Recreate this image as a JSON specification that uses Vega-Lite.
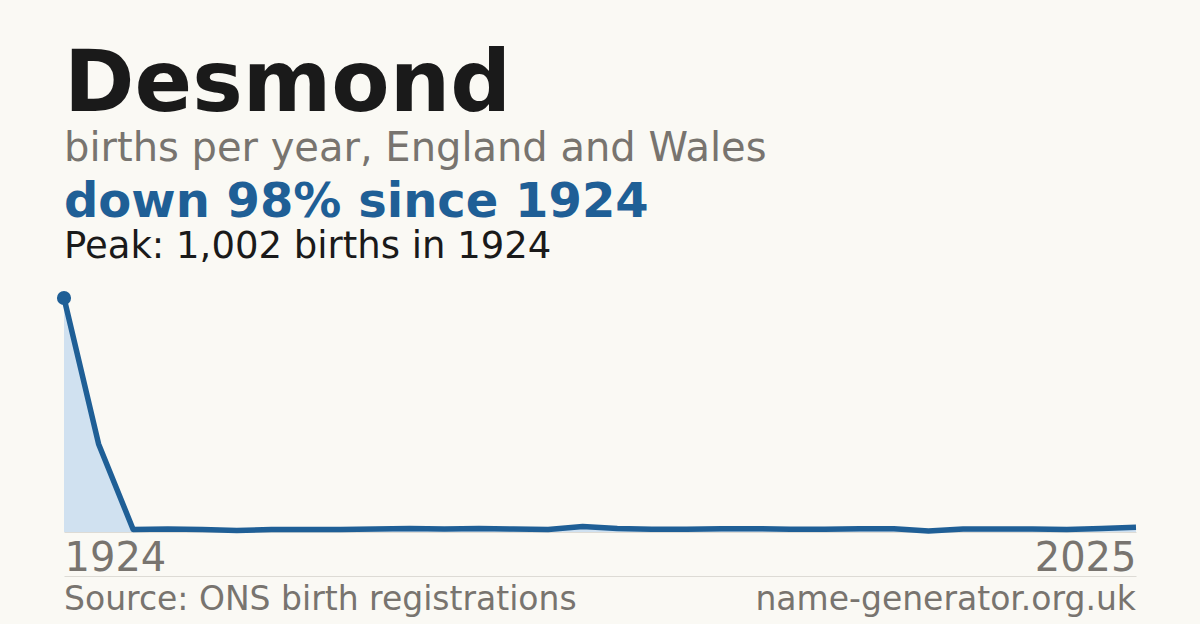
{
  "$schema": "https://vega.github.io/schema/vega-lite/v6.json",
  "background": "#faf9f4",
  "padding": {"left": 56, "right": 64, "top": 42, "bottom": 0},
  "config": {
    "font": "DejaVu Sans",
    "view": {"stroke": null}
  },
  "title": {
    "text": "Desmond",
    "subtitle": "births per year, England and Wales",
    "anchor": "start",
    "frame": "group",
    "font": "DejaVu Sans",
    "fontSize": 85,
    "fontWeight": "bold",
    "color": "#1a1a1a",
    "subtitleFont": "DejaVu Sans",
    "subtitleFontSize": 40,
    "subtitleColor": "#78746f",
    "subtitlePadding": 0,
    "offset": 9
  },
  "bounds": "flush",
  "spacing": 44,
  "vconcat": [
    {
      "width": 1072,
      "height": 234,
      "title": {
        "text": "down 98% since 1924",
        "subtitle": "Peak: 1,002 births in 1924",
        "anchor": "start",
        "frame": "group",
        "font": "DejaVu Sans",
        "fontSize": 48,
        "fontWeight": "bold",
        "color": "#1f5f96",
        "subtitleFont": "DejaVu Sans",
        "subtitleFontSize": 37,
        "subtitleColor": "#1a1a1a",
        "subtitlePadding": 2,
        "offset": 26
      },
      "data": {
        "values": [
          {"year": 1924, "births": 1002},
          {"year": 1934, "births": 377},
          {"year": 1944, "births": 11},
          {"year": 1954, "births": 13},
          {"year": 1964, "births": 11},
          {"year": 1974, "births": 6},
          {"year": 1984, "births": 11},
          {"year": 1994, "births": 11},
          {"year": 2002, "births": 11},
          {"year": 2003, "births": 13},
          {"year": 2004, "births": 15},
          {"year": 2005, "births": 13},
          {"year": 2006, "births": 15},
          {"year": 2007, "births": 13},
          {"year": 2008, "births": 11},
          {"year": 2009, "births": 24},
          {"year": 2010, "births": 15},
          {"year": 2011, "births": 12},
          {"year": 2012, "births": 12},
          {"year": 2013, "births": 14},
          {"year": 2014, "births": 14},
          {"year": 2015, "births": 12},
          {"year": 2016, "births": 12},
          {"year": 2017, "births": 14},
          {"year": 2018, "births": 14},
          {"year": 2019, "births": 4},
          {"year": 2020, "births": 13},
          {"year": 2021, "births": 13},
          {"year": 2022, "births": 13},
          {"year": 2023, "births": 11},
          {"year": 2024, "births": 15},
          {"year": 2025, "births": 20}
        ]
      },
      "encoding": {
        "x": {
          "field": "year",
          "type": "ordinal",
          "scale": {"type": "point", "padding": 0},
          "axis": {
            "values": [1924, 2025],
            "title": null,
            "labelAngle": 0,
            "labelFont": "DejaVu Sans",
            "labelFontSize": 40,
            "labelColor": "#78746f",
            "labelPadding": 6,
            "labelAlign": {"condition": {"test": "datum.value == 1924", "value": "left"}, "value": "right"},
            "ticks": false,
            "grid": false,
            "domain": true,
            "domainColor": "#dddbd5",
            "domainWidth": 1
          }
        },
        "y": {
          "field": "births",
          "type": "quantitative",
          "scale": {"domain": [0, 1002], "nice": false, "zero": true},
          "axis": null
        }
      },
      "layer": [
        {"mark": {"type": "area", "color": "#d0e1f0"}},
        {"mark": {"type": "line", "color": "#1f5f96", "strokeWidth": 5.5, "strokeJoin": "round"}},
        {
          "transform": [{"filter": "datum.year == 1924"}],
          "mark": {"type": "point", "filled": true, "color": "#1f5f96", "size": 200, "opacity": 1}
        }
      ]
    },
    {
      "width": 1072,
      "height": 48,
      "data": {
        "values": [
          {"side": "left", "label": "Source: ONS birth registrations"},
          {"side": "right", "label": "name-generator.org.uk"}
        ]
      },
      "encoding": {
        "x": {
          "field": "side",
          "type": "ordinal",
          "scale": {"type": "point", "padding": 0},
          "axis": {
            "orient": "top",
            "title": null,
            "labels": false,
            "ticks": false,
            "grid": false,
            "domain": true,
            "domainColor": "#dddbd5",
            "domainWidth": 1
          }
        },
        "text": {"field": "label"}
      },
      "layer": [
        {
          "transform": [{"filter": "datum.side == 'left'"}],
          "mark": {"type": "text", "align": "left", "baseline": "middle", "font": "DejaVu Sans", "fontSize": 33, "color": "#78746f"}
        },
        {
          "transform": [{"filter": "datum.side == 'right'"}],
          "mark": {"type": "text", "align": "right", "baseline": "middle", "font": "DejaVu Sans", "fontSize": 33, "color": "#78746f"}
        }
      ]
    }
  ]
}
